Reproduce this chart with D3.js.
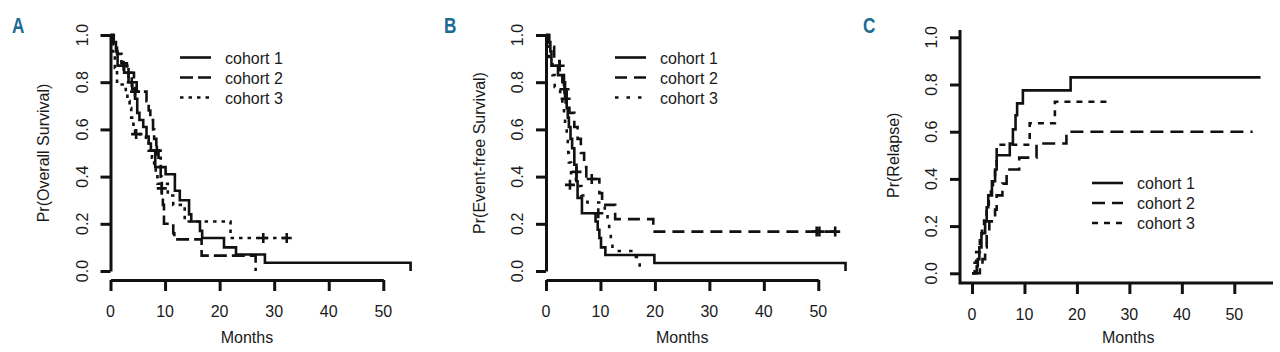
<!DOCTYPE html>
<html>
<head>
<meta charset="utf-8">
<script src="https://cdn.jsdelivr.net/npm/d3@7"></script>
<style>
  body { margin: 0; background: #fff; }
  text { font-family: "Liberation Sans", Arial, sans-serif; fill: #1a1a1a; }
</style>
</head>
<body>
<div id="chart"></div>
<script>
// ---- data ----
const cohorts = ['cohort 1', 'cohort 2', 'cohort 3']
const xTicks = [0, 10, 20, 30, 40, 50]
const yTicks = [0, 0.2, 0.4, 0.6, 0.8, 1.0]

// A: overall survival, [months, probability] step points, last point = end of curve
const os1 = [[0,1],[0.5,0.97],[1.0,0.93],[1.3,0.87],[2.5,0.84],[3.3,0.80],[4.0,0.77],[4.5,0.73],[4.9,0.67],[5.3,0.64],[6.0,0.61],[6.6,0.57],[7.0,0.54],[7.4,0.51],[8.2,0.44],[10.1,0.41],[11.8,0.34],[12.7,0.30],[14.4,0.24],[14.8,0.21],[16.4,0.17],[16.8,0.14],[20.8,0.10],[23.0,0.07],[28.3,0.035],[55,0]]
const os2 = [[0,1],[0.6,0.96],[1.2,0.92],[2.0,0.88],[3.0,0.84],[4.3,0.80],[4.8,0.76],[6.6,0.72],[7.0,0.68],[7.3,0.64],[7.8,0.60],[8.0,0.56],[8.4,0.52],[8.8,0.48],[9.2,0.40],[9.4,0.32],[9.6,0.28],[9.8,0.20],[11.5,0.16],[11.7,0.134],[16.7,0.065],[26.6,0]]
const os3 = [[0,1],[0.4,0.93],[0.8,0.86],[1.2,0.79],[2.8,0.76],[3.1,0.72],[3.5,0.69],[3.8,0.65],[4.2,0.62],[4.5,0.58],[6.5,0.55],[7.0,0.51],[7.6,0.48],[8.0,0.44],[8.3,0.41],[8.6,0.37],[10.5,0.32],[11.5,0.28],[13.6,0.21],[22.0,0.14],[32.3,0.14]]
const osCens1 = [[2.4,0.87],[3.3,0.84],[3.9,0.80],[8.5,0.51]]
const osCens2 = [[4.5,0.76]]
const osCens3 = [[4.7,0.58],[9.4,0.35],[28.0,0.14],[32.3,0.14]]

// B: event-free survival
const efs1 = [[0,1],[0.5,0.97],[0.8,0.93],[1.0,0.87],[2.2,0.83],[3.0,0.80],[3.5,0.73],[3.8,0.69],[4.0,0.65],[4.2,0.61],[4.5,0.56],[4.8,0.52],[5.2,0.45],[5.6,0.38],[5.8,0.31],[6.6,0.245],[9.1,0.21],[9.5,0.175],[9.8,0.14],[10.1,0.10],[10.9,0.068],[19.9,0.034],[55,0]]
const efs2 = [[0,1],[0.6,0.95],[1.5,0.89],[2.5,0.83],[3.3,0.78],[3.8,0.72],[4.3,0.67],[5.2,0.61],[5.8,0.56],[6.4,0.50],[7.0,0.44],[7.4,0.39],[9.8,0.33],[10.3,0.28],[12.7,0.22],[19.7,0.167],[53.1,0.167]]
const efs3 = [[0,1],[0.3,0.95],[0.6,0.90],[1.2,0.83],[1.6,0.78],[2.6,0.74],[3.0,0.70],[3.3,0.66],[3.5,0.62],[3.8,0.58],[4.0,0.54],[4.1,0.50],[4.2,0.46],[4.6,0.40],[5.5,0.36],[6.5,0.32],[7.6,0.29],[10.8,0.25],[11.3,0.21],[11.6,0.17],[11.9,0.13],[12.2,0.085],[16.5,0.06],[17.2,0]]
const efsCens1 = [[2.5,0.87],[3.4,0.77],[3.6,0.73],[5.6,0.42],[9.6,0.245]]
const efsCens2 = [[8.4,0.39],[49.7,0.167],[50.2,0.167],[53.1,0.167]]
const efsCens3 = [[4.4,0.365]]

// C: cumulative incidence of relapse
const rel1 = [[0,0],[0.9,0.03],[1.1,0.06],[1.4,0.11],[1.8,0.17],[2.5,0.22],[2.8,0.28],[3.1,0.33],[3.8,0.39],[4.4,0.44],[4.7,0.50],[7.2,0.55],[7.8,0.61],[8.3,0.67],[8.6,0.72],[9.7,0.775],[18.8,0.83],[55,0.83]]
const rel2 = [[0,0],[1.5,0.03],[2.0,0.06],[2.5,0.11],[2.8,0.17],[3.3,0.22],[4.4,0.27],[4.7,0.33],[5.8,0.38],[6.6,0.44],[9.0,0.49],[12.3,0.55],[18.0,0.60],[53.5,0.60]]
const rel3 = [[0,0],[0.5,0.045],[0.8,0.09],[1.5,0.14],[1.9,0.18],[2.3,0.23],[2.8,0.27],[3.2,0.32],[3.6,0.36],[4.0,0.41],[4.4,0.45],[4.7,0.545],[11.0,0.636],[15.8,0.727],[25.8,0.727]]

// ---- layout ----
const panels = [
  { letter: 'A', letterX: 12, title: 'Pr(Overall Survival)', titleX: 49,
    x: [110.5, 383.3], y: [271, 35], xAxisY: 280, yAxisX: 110.5, yLabX: 88,
    legendX: 180, legendY: 57.5, dash: '13,5', dot: '3.5,5',
    curves: [os1, os2, os3], cens: [osCens1, osCens2, osCens3] },
  { letter: 'B', letterX: 444, title: 'Pr(Event-free Survival)', titleX: 485,
    x: [546, 818.3], y: [271, 35], xAxisY: 280, yAxisX: 546, yLabX: 523,
    legendX: 615, legendY: 57.5, dash: '12,7', dot: '3.5,8',
    curves: [efs1, efs2, efs3], cens: [efsCens1, efsCens2, efsCens3] },
  { letter: 'C', letterX: 863, title: 'Pr(Relapse)', titleX: 899,
    x: [972, 1234.3], y: [273.3, 37.3], xAxisY: 283, yAxisX: 960, yLabX: 937,
    lShape: true, axisEnd: 1273, axisTop: 30,
    legendX: 1092, legendY: 183, dash: '13,7', dot: '6,6',
    curves: [rel1, rel2, rel3], cens: [[], [], []] }
]

const svg = d3.select('#chart').append('svg')
  .attr('width', 1280).attr('height', 352)

panels.forEach(p => drawPanel(p))

function drawPanel(p) {
  const x = d3.scaleLinear().domain([0, 50]).range(p.x)
  const y = d3.scaleLinear().domain([0, 1]).range(p.y)
  const g = svg.append('g')
  const styles = [null, p.dash, p.dot]

  // panel letter (condensed bold look)
  g.append('text')
    .attr('transform', `translate(${p.letterX},33) scale(0.78,1)`)
    .style('font-weight', 'bold').style('font-size', '22px')
    .style('fill', '#1b6b93')
    .text(p.letter)

  // axes
  const yAxis = d3.axisLeft(y).tickValues(yTicks).tickSize(10).tickSizeOuter(0).tickFormat('')
  const xAxis = d3.axisBottom(x).tickValues(xTicks).tickSize(11).tickSizeOuter(0).tickFormat('')
  const ya = g.append('g').attr('transform', `translate(${p.yAxisX},0)`).call(yAxis)
  const xa = g.append('g').attr('transform', `translate(0,${p.xAxisY})`).call(xAxis)
  ;[ya, xa].forEach(a => {
    a.selectAll('path, line').attr('stroke', '#111').attr('stroke-width', 3)
  })
  if (p.lShape) {
    ya.select('.domain').remove()
    xa.select('.domain').remove()
    g.append('path')
      .attr('d', `M${p.yAxisX},${p.axisTop}V${p.xAxisY}H${p.axisEnd}`)
      .attr('fill', 'none').attr('stroke', '#111').attr('stroke-width', 3)
  }

  // tick labels
  yTicks.forEach(v => {
    g.append('text')
      .attr('transform', `translate(${p.yLabX},${y(v)}) rotate(-90)`)
      .attr('text-anchor', 'middle').style('font-size', '16px')
      .text(d3.format('.1f')(v))
  })
  xTicks.forEach(v => {
    g.append('text')
      .attr('x', x(v)).attr('y', p.xAxisY + 37)
      .attr('text-anchor', 'middle').style('font-size', '16px')
      .text(v)
  })

  // axis titles
  g.append('text')
    .attr('x', (x(0) + x(50)) / 2 + (p.lShape ? 25 : 0)).attr('y', 343)
    .attr('text-anchor', 'middle').style('font-size', '16px')
    .text('Months')
  g.append('text')
    .attr('transform', `translate(${p.titleX},${(p.y[0] + p.y[1]) / 2}) rotate(-90)`)
    .attr('text-anchor', 'middle').style('font-size', '16px')
    .text(p.title)

  // curves
  const line = d3.line()
    .x(d => x(d[0])).y(d => y(d[1]))
    .curve(d3.curveStepAfter)

  p.curves.forEach((pts, i) => {
    g.append('path')
      .datum(pts)
      .attr('d', line)
      .attr('fill', 'none')
      .attr('stroke', '#111')
      .attr('stroke-width', 2.6)
      .attr('stroke-dasharray', styles[i])
  })

  // censor marks
  p.cens.forEach(marks => {
    g.selectAll(null).data(marks).enter().append('path')
      .attr('d', d => `M${x(d[0]) - 5},${y(d[1])}h10M${x(d[0])},${y(d[1]) - 5}v10`)
      .attr('stroke', '#111').attr('stroke-width', 2.6)
  })

  // legend
  cohorts.forEach((c, i) => {
    const ly = p.legendY + i * 20
    g.append('line')
      .attr('x1', p.legendX).attr('x2', p.legendX + 31)
      .attr('y1', ly).attr('y2', ly)
      .attr('stroke', '#111').attr('stroke-width', 2.6)
      .attr('stroke-dasharray', styles[i])
    g.append('text')
      .attr('x', p.legendX + 45).attr('y', ly + 6)
      .style('font-size', '16px')
      .text(c)
  })
}
</script>
</body>
</html>
